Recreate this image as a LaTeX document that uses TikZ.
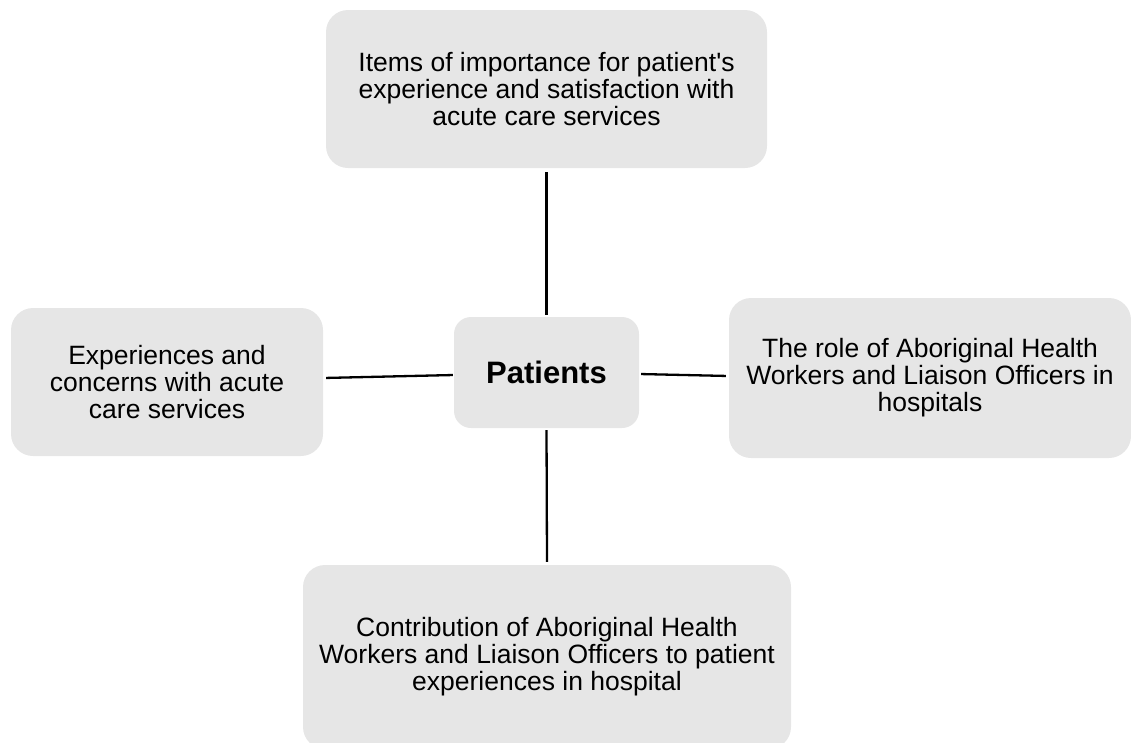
\documentclass[tikz,border=0pt]{standalone}
\usepackage{fontspec}
\setmainfont{Liberation Sans}
\definecolor{boxgray}{RGB}{230,230,230}
\newcommand{\straightapos}{\XeTeXglyph\XeTeXcharglyph"27\relax}
\begin{document}
\begin{tikzpicture}[x=1pt,y=-1pt,
  topicbox/.style={rectangle, rounded corners=22pt, fill=boxgray, draw=none, inner sep=0pt, align=center,
    font=\fontsize{26.5}{27}\selectfont},
  link/.style={line width=2.3pt, black}]
\useasboundingbox (0,0) rectangle (1131,742);
\node[topicbox, minimum width=441pt, minimum height=158pt] (top) at (546.5,89)
  {Items of importance for patient\straightapos s\\experience and satisfaction with\\acute care services};
\node[topicbox, rounded corners=17pt, minimum width=185pt, minimum height=111pt,
  font=\fontsize{31}{33}\selectfont\bfseries] (pat) at (546.5,372.5) {Patients};
\node[topicbox, minimum width=312pt, minimum height=148pt] (left) at (167,382)
  {Experiences and\\concerns with acute\\care services};
\node[topicbox, minimum width=402pt, minimum height=160pt] (right) at (930,378)
  {The role of Aboriginal Health\\Workers and Liaison Officers in\\hospitals};
\node[topicbox, minimum width=488pt, minimum height=184pt] (bottom) at (547,657)
  {Contribution of Aboriginal Health\\Workers and Liaison Officers to patient\\experiences in hospital};
\draw[link, shorten <=4pt, shorten >=2pt] (top.south) -- (pat.north);
\draw[link, shorten <=2pt, shorten >=3pt] (pat.south) -- (bottom.north);
\draw[link, shorten <=3pt, shorten >=1pt] ([yshift=4pt]left.east) -- ([yshift=-2.5pt]pat.west);
\draw[link, shorten <=2pt, shorten >=3pt] ([yshift=-1.5pt]pat.east) -- ([yshift=2pt]right.west);
\end{tikzpicture}
\end{document}
